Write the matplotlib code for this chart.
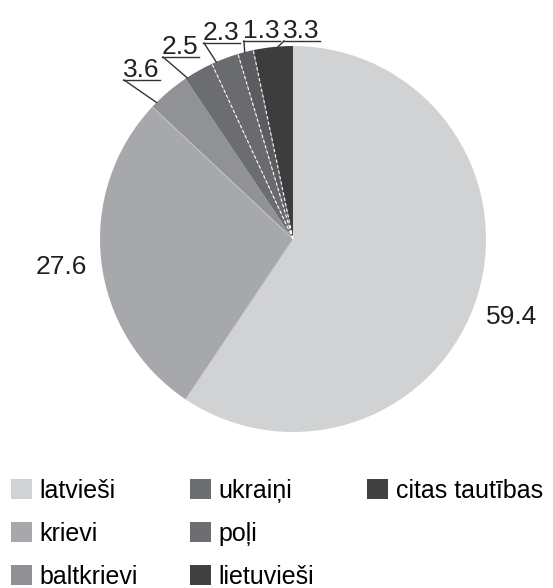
import numpy as np
import matplotlib.pyplot as plt
from matplotlib.patches import Patch

plt.rcParams['font.family'] = ['Liberation Sans', 'DejaVu Sans']

labels = ['latvieši', 'krievi', 'baltkrievi', 'ukraiņi', 'poļi', 'lietuvieši', 'citas tautības']
values = [59.4, 27.6, 3.6, 2.5, 2.3, 1.3, 3.3]
pie_colors = ['#d1d2d4', '#a7a8ab', '#919295', '#6c6d70', '#6a6b6e', '#5c5d60', '#3d3d3e']
legend_colors = ['#d1d2d4', '#a7a8ab', '#8f9093', '#6d6e71', '#6d6e71', '#404041', '#404041']

W, H = 553, 588
fig = plt.figure(figsize=(W / 100, H / 100), dpi=100)
ax = fig.add_axes([0, 0, 1, 1])

cx, cy, R = 293, H - 239, 193
wedges, _ = ax.pie(values, colors=pie_colors, startangle=90, counterclock=False,
                   center=(cx, cy), radius=R, wedgeprops=dict(linewidth=0))
ax.set_xlim(0, W)
ax.set_ylim(0, H)
ax.set_aspect('equal')
ax.axis('off')

# boundaries between slices
vals = np.array(values)
cum = np.concatenate([[0], np.cumsum(vals)]) / vals.sum()
edges = 90 - 360 * cum
for k in [2]:
    a = np.radians(edges[k])
    ax.plot([cx, cx + R * np.cos(a)], [cy, cy + R * np.sin(a)], color='#c4c5c7', lw=0.7)
for k in [4, 5, 6]:
    a = np.radians(edges[k])
    ax.plot([cx, cx + R * np.cos(a)], [cy, cy + R * np.sin(a)], color='white', lw=0.8,
            ls=(0, (3, 2)))

txt = dict(fontsize=19, color='#231f20')
ax.text(61, H - 267, f'{values[1]:.1f}', ha='center', va='center', **txt)
ax.text(512, H - 317, f'{values[0]:.1f}', ha='center', va='center', **txt)

# small slices: underlined labels with leader lines
small_pos = {2: (123, 80, 0.14), 3: (162, 57, 0.06), 4: (203, 43, 0.17),
             5: (243, 41, 0.44), 6: (283, 41, 0.63)}
small_txt = {}
for k, (x0, yu, _) in small_pos.items():
    small_txt[k] = ax.text(x0, H - yu + 3, f'{values[k]:.1f}', ha='left', va='baseline', **txt)

fig.canvas.draw()
inv = ax.transData.inverted()
for k, t in small_txt.items():
    bb = t.get_window_extent()
    (xa, _), (xb, _) = inv.transform([(bb.x0, bb.y0), (bb.x1, bb.y0)])
    yu = H - small_pos[k][1]
    frac = small_pos[k][2]
    a = np.radians(edges[k] + (edges[k + 1] - edges[k]) * frac)
    ax.plot([xa, xb], [yu, yu], color='#333333', lw=1.0)
    ax.plot([xa + 1, cx + R * np.cos(a)], [yu, cy + R * np.sin(a)], color='#333333', lw=1.0)

# legend: 3 per column (pad the last column with blanks)
handles = [Patch(facecolor=c, edgecolor='none') for c in legend_colors]
blank = Patch(facecolor='none', edgecolor='none')
fig.legend(handles + [blank, blank], labels + ['', ''], ncol=3, loc='upper left',
           bbox_to_anchor=(6 / W, 1 - 474 / H), frameon=False, fontsize=18,
           handlelength=0.84, handleheight=0.84, handletextpad=0.3,
           labelspacing=0.76, columnspacing=2.1, borderpad=0.2, borderaxespad=0)

fig.savefig('out.png', dpi=100)
